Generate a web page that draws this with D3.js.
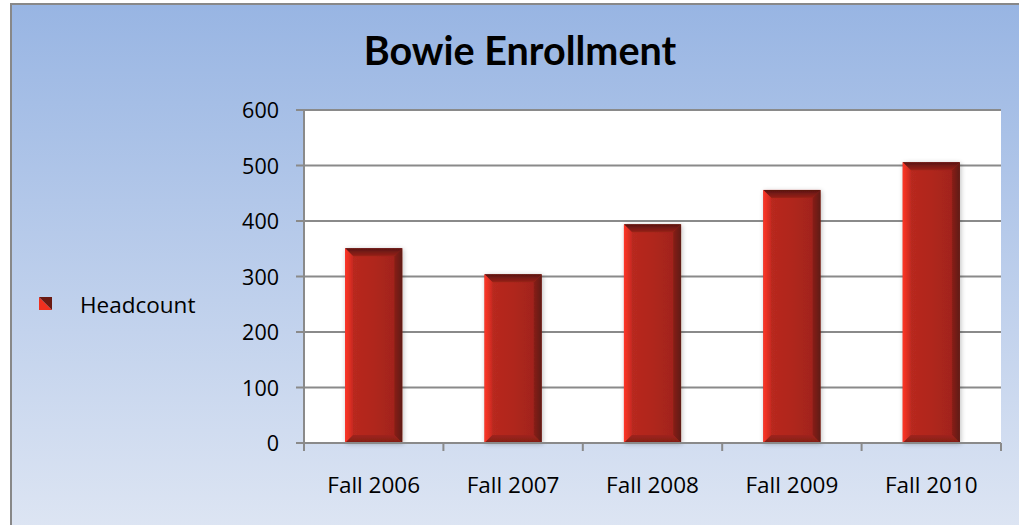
<!DOCTYPE html>
<html><head><meta charset="utf-8">
<script src="https://cdn.jsdelivr.net/npm/d3@7"></script>
<style>html,body{margin:0;padding:0;background:#fff;}svg{display:block;}</style>
</head><body>
<svg id="c" width="1019" height="525"></svg>
<script>
const categories = ["Fall 2006","Fall 2007","Fall 2008","Fall 2009","Fall 2010"];
const headcount = [351, 304, 394, 456, 506];
const yTicks = [0,100,200,300,400,500,600];
const seriesName = "Headcount";
const titleText = "Bowie Enrollment";

(function(){
const svg = d3.select("#c");
const W = 1019, H = 525;
const defs = svg.append("defs");

const bg = defs.append("linearGradient").attr("id","bg").attr("x1",0).attr("y1",0).attr("x2",0).attr("y2",1);
bg.append("stop").attr("offset","0%").attr("stop-color","#98b5e3");
bg.append("stop").attr("offset","100%").attr("stop-color","#dde5f3");

function lg(id, x1,y1,x2,y2, stops){
  const g = defs.append("linearGradient").attr("id",id).attr("x1",x1).attr("y1",y1).attr("x2",x2).attr("y2",y2);
  stops.forEach(s=>g.append("stop").attr("offset",s[0]).attr("stop-color",s[1]));
}
lg("face",0,0,1,0,[["0%","#bb2a20"],["50%","#b0261e"],["100%","#9c231b"]]);
lg("left",0,0,1,0,[["0%","#ff3526"],["100%","#c42a20"]]);
lg("right",0,0,1,0,[["0%","#8a2018"],["100%","#5e1a12"]]);
lg("topb",0,0,0,1,[["0%","#581510"],["100%","#9a2119"]]);
lg("bot",0,0,0,1,[["0%","#a0241c"],["100%","#801e16"]]);
const sh = defs.append("filter").attr("id","sh").attr("x","-20%").attr("y","-10%").attr("width","140%").attr("height","120%");
sh.append("feGaussianBlur").attr("in","SourceAlpha").attr("stdDeviation",2.5).attr("result","b");
sh.append("feOffset").attr("in","b").attr("dx",1).attr("dy",1).attr("result","o");
sh.append("feComponentTransfer").attr("in","o").attr("result","t").append("feFuncA").attr("type","linear").attr("slope",0.25);
const mg = sh.append("feMerge"); mg.append("feMergeNode").attr("in","t"); mg.append("feMergeNode").attr("in","SourceGraphic");

svg.append("rect").attr("x",11).attr("y",4).attr("width",W).attr("height",H).attr("fill","url(#bg)")
  .attr("stroke","#888888").attr("stroke-width",2);

const pL = 304, pR = 1001, pT = 110, pB = 443;
const x = d3.scaleBand().domain(categories).range([pL,pR]).paddingInner(0.59).paddingOuter(0.295);
const xb = d3.scaleBand().domain(categories).range([pL,pR]);
const y = d3.scaleLinear().domain([0,600]).range([pB,pT]);

svg.append("rect").attr("x",pL).attr("y",pT).attr("width",pR-pL).attr("height",pB-pT).attr("fill","#ffffff");

svg.append("g").selectAll("line").data(yTicks).join("line")
  .attr("x1",pL-8).attr("x2",pR).attr("y1",d=>y(d)).attr("y2",d=>y(d))
  .attr("stroke","#8a8a8a").attr("stroke-width",2);

const bev = 8;
const bars = svg.append("g").selectAll("g").data(categories).join("g").attr("filter","url(#sh)");
bars.each(function(c,i){
  const g = d3.select(this);
  const x0 = x(c), x1 = x(c)+x.bandwidth(), y0 = y(headcount[i]), y1 = y(0);
  g.append("rect").attr("x",x0).attr("y",y0).attr("width",x1-x0).attr("height",y1-y0).attr("fill","url(#face)");
  g.append("polygon").attr("points",[[x0,y0],[x1,y0],[x1-bev,y0+bev],[x0+bev,y0+bev]].join(" ")).attr("fill","url(#topb)");
  g.append("polygon").attr("points",[[x0,y0],[x0+bev,y0+bev],[x0+bev,y1-bev],[x0,y1]].join(" ")).attr("fill","url(#left)");
  g.append("polygon").attr("points",[[x1,y0],[x1,y1],[x1-bev,y1-bev],[x1-bev,y0+bev]].join(" ")).attr("fill","url(#right)");
  g.append("polygon").attr("points",[[x0,y1],[x0+bev,y1-bev],[x1-bev,y1-bev],[x1,y1]].join(" ")).attr("fill","url(#bot)");
});

svg.append("line").attr("x1",pL).attr("x2",pL).attr("y1",pT).attr("y2",pB+8).attr("stroke","#8a8a8a").attr("stroke-width",2);
svg.append("line").attr("x1",pL-8).attr("x2",pR).attr("y1",pB).attr("y2",pB).attr("stroke","#8a8a8a").attr("stroke-width",2);
svg.append("g").selectAll("line").data(categories).join("line")
  .attr("x1",d=>xb(d)+xb.bandwidth()).attr("x2",d=>xb(d)+xb.bandwidth())
  .attr("y1",pB).attr("y2",pB+8).attr("stroke","#8a8a8a").attr("stroke-width",2);

const font = "'Open Sans', Lato, sans-serif";
svg.append("g").selectAll("text").data(yTicks).join("text")
  .attr("x",279).attr("y",d=>y(d)+8).attr("text-anchor","end")
  .attr("font-family",font).attr("font-size",21.5).attr("fill","#000").text(d=>d);
svg.append("g").selectAll("text").data(categories).join("text")
  .attr("x",d=>xb(d)+xb.bandwidth()/2).attr("y",493).attr("text-anchor","middle")
  .attr("font-family",font).attr("font-size",22.5).attr("fill","#000").text(d=>d);

svg.append("text").attr("x",520).attr("y",65).attr("text-anchor","middle")
  .attr("font-family","Lato, sans-serif").attr("font-weight","bold").attr("font-size",39.5).attr("fill","#000").text(titleText);

const lgx = 39, lgy = 297, ls = 13;
svg.append("polygon").attr("points",[[lgx,lgy],[lgx,lgy+ls],[lgx+ls,lgy+ls]].join(" ")).attr("fill","#f0301f");
svg.append("polygon").attr("points",[[lgx,lgy],[lgx+ls,lgy],[lgx+ls,lgy+ls]].join(" ")).attr("fill","#6a1a12");
svg.append("text").attr("x",80).attr("y",313).attr("font-family",font).attr("font-size",22.5).attr("fill","#000").text(seriesName);
})();
</script>
</body></html>
